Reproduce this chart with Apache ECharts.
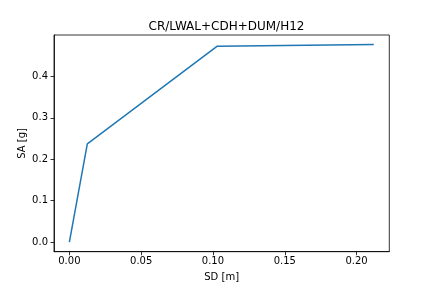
<!DOCTYPE html>
<html>
<head>
<meta charset="utf-8">
<script src="https://cdn.jsdelivr.net/npm/echarts@6/dist/echarts.min.js"></script>
<style>
  html, body { margin: 0; padding: 0; background: #fff; }
  #chart { width: 432px; height: 288px; }
</style>
</head>
<body>
<div id="chart"></div>
<script>
var sd = [0.0, 0.0125, 0.103, 0.212]   // SD [m]
var sa = [0.0, 0.237, 0.473, 0.477]   // SA [g]
var xTicks = [0.0, 0.05, 0.10, 0.15, 0.20]
var yTicks = [0.0, 0.1, 0.2, 0.3, 0.4]

var myChart = echarts.init(document.getElementById('chart'))

var points = sd.map(function (x, i) {
    return [x, sa[i]]
})

var font = 'DejaVu Sans'

option = {
    animation: false,
    title: {
        text: 'CR/LWAL+CDH+DUM/H12',
        left: 221.5,
        textAlign: 'center',
        top: 16,
        textStyle: { fontFamily: font, fontSize: 12, fontWeight: 'normal', color: '#000' }
    },
    grid: {
        left: 54, right: 42.7, top: 35, bottom: 36.3,
        show: true, borderColor: '#000', borderWidth: 0.8
    },
    xAxis: {
        type: 'value',
        min: -0.0107,
        max: 0.2228,
        name: 'SD [m]',
        nameLocation: 'middle',
        nameGap: 21,
        nameMoveOverlap: false,
        nameTextStyle: { fontFamily: font, fontSize: 10, color: '#000' },
        splitLine: { show: false },
        axisLine: { show: true, onZero: false, lineStyle: { color: '#000', width: 0.8 } },
        axisTick: { show: true, length: 3.5, customValues: xTicks, lineStyle: { color: '#000', width: 0.8 } },
        axisLabel: {
            customValues: xTicks,
            margin: 5,
            fontFamily: font, fontSize: 10, color: '#000',
            formatter: function (v) { return v.toFixed(2) }
        }
    },
    yAxis: {
        type: 'value',
        min: -0.0234,
        max: 0.5,
        name: 'SA [g]',
        nameLocation: 'middle',
        nameGap: 27,
        nameMoveOverlap: false,
        nameTextStyle: { fontFamily: font, fontSize: 10, color: '#000' },
        splitLine: { show: false },
        axisLine: { show: true, onZero: false, lineStyle: { color: '#000', width: 0.8 } },
        axisTick: { show: true, length: 3.5, customValues: yTicks, lineStyle: { color: '#000', width: 0.8 } },
        axisLabel: {
            customValues: yTicks,
            margin: 6,
            fontFamily: font, fontSize: 10, color: '#000',
            formatter: function (v) { return v.toFixed(1) }
        }
    },
    series: [{
        type: 'line',
        data: points,
        showSymbol: false,
        lineStyle: { color: '#1f77b4', width: 1.5 },
        itemStyle: { color: '#1f77b4' }
    }]
}

myChart.setOption(option)
</script>
</body>
</html>
